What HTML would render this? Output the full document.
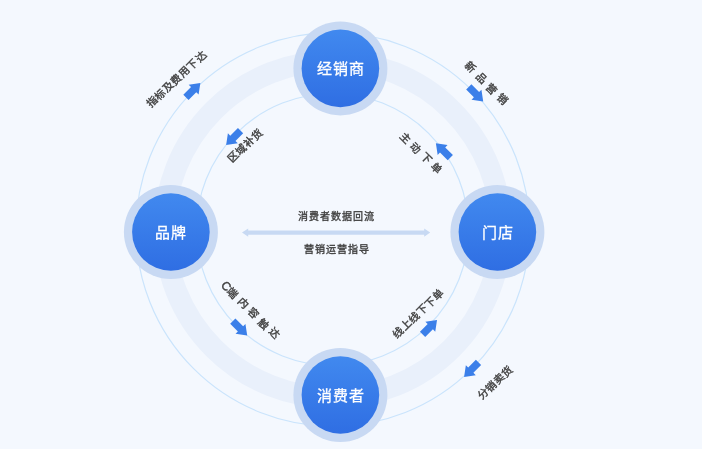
<!DOCTYPE html>
<html lang="zh-CN"><head><meta charset="utf-8"><style>
html,body{margin:0;padding:0;background:#f4f8fe;}
body{width:702px;height:449px;overflow:hidden;font-family:"Liberation Sans",sans-serif;}
svg{display:block;will-change:transform;filter:blur(0.35px);}
.ct{font-size:10px;letter-spacing:1px;fill:#3e3e3e;stroke:#3e3e3e;stroke-width:0.35px;text-anchor:middle;dominant-baseline:central;}
.nt{font-size:15px;letter-spacing:1px;fill:#fff;stroke:#fff;stroke-width:0.3px;text-anchor:middle;dominant-baseline:central;}
.lt{font-size:10.5px;fill:#3e3e3e;stroke:#3e3e3e;stroke-width:0.4px;text-anchor:middle;dominant-baseline:central;}
.lc{font-size:12px;}
</style></head><body>
<svg width="702" height="449" viewBox="0 0 702 449">
<defs><linearGradient id="ng" x1="0" y1="0" x2="0" y2="1"><stop offset="0" stop-color="#4189ef"/><stop offset="1" stop-color="#2f6ee3"/></linearGradient></defs>
<rect width="702" height="449" fill="#f4f8fe"/>
<circle cx="332.8" cy="229.3" r="168.3" fill="none" stroke="#e9f0fb" stroke-width="21.5"/>
<circle cx="332.8" cy="229.5" r="196.8" fill="none" stroke="#cae4fc" stroke-width="1.2"/>
<circle cx="332.5" cy="229.5" r="136" fill="none" stroke="#cae4fc" stroke-width="1.2"/>
<path d="M242 232.6 L248.2 228.4 L248.2 230.5 L424.2 230.5 L424.2 228.4 L430.2 232.6 L424.2 236.8 L424.2 234.7 L248.2 234.7 L248.2 236.8 Z" fill="#c7d9f3"/>
<text x="336.7" y="216.3" class="ct">消费者数据回流</text>
<text x="336.7" y="249.6" class="ct">营销运营指导</text>
<circle cx="340.4" cy="68.4" r="47" fill="#c8d9f3"/>
<circle cx="340.4" cy="68.4" r="38.8" fill="url(#ng)"/>
<text x="340.9" y="68.7" class="nt">经销商</text>
<circle cx="170.9" cy="232" r="47" fill="#c8d9f3"/>
<circle cx="170.9" cy="232" r="38.8" fill="url(#ng)"/>
<text x="171.4" y="232.3" class="nt">品牌</text>
<circle cx="497.4" cy="232" r="47" fill="#c8d9f3"/>
<circle cx="497.4" cy="232" r="38.8" fill="url(#ng)"/>
<text x="497.9" y="232.3" class="nt">门店</text>
<circle cx="340.4" cy="395" r="47" fill="#c8d9f3"/>
<circle cx="340.4" cy="395" r="38.8" fill="url(#ng)"/>
<text x="340.9" y="395.3" class="nt">消费者</text>
<text class="lt" transform="translate(151.6 102.1) rotate(-45)">指</text>
<text class="lt" transform="translate(159.72 94.52) rotate(-45)">标</text>
<text class="lt" transform="translate(167.83 86.93) rotate(-45)">及</text>
<text class="lt" transform="translate(175.95 79.35) rotate(-45)">费</text>
<text class="lt" transform="translate(184.07 71.77) rotate(-45)">用</text>
<text class="lt" transform="translate(192.18 64.18) rotate(-45)">下</text>
<text class="lt" transform="translate(200.3 56.6) rotate(-45)">达</text>
<text class="lt" transform="translate(232.7 156.6) rotate(-45)">区</text>
<text class="lt" transform="translate(240.87 149.33) rotate(-45)">域</text>
<text class="lt" transform="translate(249.03 142.07) rotate(-45)">补</text>
<text class="lt" transform="translate(257.2 134.8) rotate(-45)">货</text>
<text class="lt" transform="translate(470.6 67.1) rotate(45)">新</text>
<text class="lt" transform="translate(481.2 77.67) rotate(45)">品</text>
<text class="lt" transform="translate(491.8 88.23) rotate(45)">营</text>
<text class="lt" transform="translate(502.4 98.8) rotate(45)">销</text>
<text class="lt" transform="translate(405.2 137.8) rotate(45)">主</text>
<text class="lt" transform="translate(415.67 147.93) rotate(45)">动</text>
<text class="lt" transform="translate(426.13 158.07) rotate(45)">下</text>
<text class="lt" transform="translate(436.6 168.2) rotate(45)">单</text>
<text class="lt lc" transform="translate(226.2 286.3) rotate(45)">C</text>
<text class="lt" transform="translate(232.6 292.9) rotate(45)">端</text>
<text class="lt" transform="translate(243 302.6) rotate(45)">内</text>
<text class="lt" transform="translate(253.6 312.6) rotate(45)">容</text>
<text class="lt" transform="translate(263.7 323.5) rotate(45)">触</text>
<text class="lt" transform="translate(273.9 333) rotate(45)">达</text>
<text class="lt" transform="translate(397.4 332.2) rotate(-45)">线</text>
<text class="lt" transform="translate(405.48 324.72) rotate(-45)">上</text>
<text class="lt" transform="translate(413.56 317.24) rotate(-45)">线</text>
<text class="lt" transform="translate(421.64 309.76) rotate(-45)">下</text>
<text class="lt" transform="translate(429.72 302.28) rotate(-45)">下</text>
<text class="lt" transform="translate(437.8 294.8) rotate(-45)">单</text>
<text class="lt" transform="translate(483 394.1) rotate(-45)">分</text>
<text class="lt" transform="translate(490.8 386.53) rotate(-45)">销</text>
<text class="lt" transform="translate(498.6 378.97) rotate(-45)">卖</text>
<text class="lt" transform="translate(506.4 371.4) rotate(-45)">货</text>
<path transform="translate(193.15 90.15) rotate(-45)" d="M10.2 0 L0.7 -7 L0.7 -3.7 L-10.2 -3.7 L-10.2 3.7 L0.7 3.7 L0.7 7 Z" fill="#3b7fe9"/>
<path transform="translate(233.35 137.8) rotate(135)" d="M10.2 0 L0.7 -7 L0.7 -3.7 L-10.2 -3.7 L-10.2 3.7 L0.7 3.7 L0.7 7 Z" fill="#3b7fe9"/>
<path transform="translate(476 94.2) rotate(45)" d="M10.2 0 L0.7 -7 L0.7 -3.7 L-10.2 -3.7 L-10.2 3.7 L0.7 3.7 L0.7 7 Z" fill="#3b7fe9"/>
<path transform="translate(443.1 150.5) rotate(-135)" d="M10.2 0 L0.7 -7 L0.7 -3.7 L-10.2 -3.7 L-10.2 3.7 L0.7 3.7 L0.7 7 Z" fill="#3b7fe9"/>
<path transform="translate(240 328.4) rotate(45)" d="M10.2 0 L0.7 -7 L0.7 -3.7 L-10.2 -3.7 L-10.2 3.7 L0.7 3.7 L0.7 7 Z" fill="#3b7fe9"/>
<path transform="translate(429.8 327.2) rotate(-45)" d="M10.2 0 L0.7 -7 L0.7 -3.7 L-10.2 -3.7 L-10.2 3.7 L0.7 3.7 L0.7 7 Z" fill="#3b7fe9"/>
<path transform="translate(471.3 369.7) rotate(135)" d="M10.2 0 L0.7 -7 L0.7 -3.7 L-10.2 -3.7 L-10.2 3.7 L0.7 3.7 L0.7 7 Z" fill="#3b7fe9"/>
</svg></body></html>
